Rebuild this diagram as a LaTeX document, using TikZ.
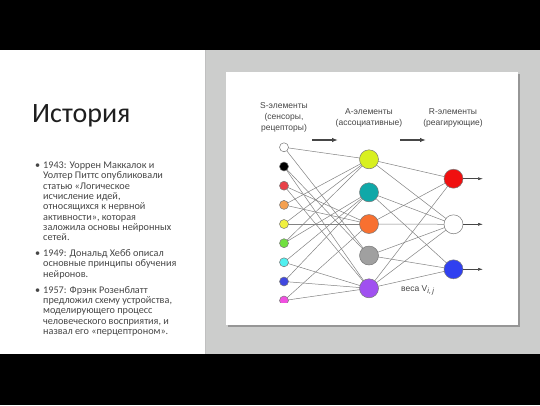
\documentclass[tikz,border=0pt]{standalone}
\usepackage{fontspec}
\setmainfont{Carlito}
\newfontfamily\arialf{Liberation Sans}
\usetikzlibrary{arrows.meta}
\pgfdeclarelayer{back}
\pgfdeclarelayer{edges}
\pgfsetlayers{back,edges,main}
\definecolor{slidegray}{RGB}{204,205,204}
\definecolor{shadowgray}{RGB}{150,150,150}
\definecolor{txtgray}{RGB}{70,70,70}
\definecolor{titlecol}{RGB}{30,30,30}
\definecolor{lblgray}{RGB}{70,70,70}
\definecolor{edgegray}{RGB}{130,130,130}
\definecolor{rimgray}{RGB}{120,120,120}
\definecolor{cS3}{RGB}{232,64,72}
\definecolor{cS4}{RGB}{244,160,80}
\definecolor{cS5}{RGB}{240,240,64}
\definecolor{cS6}{RGB}{112,224,64}
\definecolor{cS7}{RGB}{80,240,240}
\definecolor{cS8}{RGB}{64,72,224}
\definecolor{cS9}{RGB}{240,80,224}
\definecolor{cA1}{RGB}{216,240,32}
\definecolor{cA2}{RGB}{16,168,168}
\definecolor{cA3}{RGB}{248,112,48}
\definecolor{cA4}{RGB}{160,160,160}
\definecolor{cA5}{RGB}{160,80,240}
\definecolor{cR1}{RGB}{240,16,16}
\definecolor{cR3}{RGB}{48,64,240}
\tikzset{
  snode/.style={circle, draw=rimgray, line width=0.5pt, minimum size=9pt, inner sep=0pt},
  anode/.style={circle, draw=rimgray, line width=0.5pt, minimum size=19pt, inner sep=0pt},
  link/.style={draw=edgegray, line width=0.5pt},
  headarrow/.style={draw=lblgray, line width=1.3pt, -{Latex[length=6pt,width=4.5pt]}},
  outarrow/.style={draw=lblgray, line width=0.5pt, -{Latex[length=5pt,width=3pt]}},
  bodytext/.style={anchor=base west, inner sep=0pt, text=txtgray, font=\fontsize{10.2}{10}\selectfont},
  lbl/.style={anchor=base, inner sep=0pt, text=lblgray, font=\arialf\fontsize{8.5}{10}\selectfont}
}
\begin{document}
\begin{tikzpicture}[x=1pt,y=-1pt]
\useasboundingbox (0,0) rectangle (540,405);
\begin{pgfonlayer}{back}
\fill[white] (0,0) rectangle (540,405);
\fill[black] (0,0) rectangle (540,50);
\fill[black] (0,354) rectangle (540,405);
\fill[slidegray] (205,50) rectangle (540,354);
\draw[shadowgray!60, line width=1pt] (205.5,50) -- (205.5,354);
\fill[shadowgray] (227.5,73.5) rectangle (519.5,326.5);
\fill[white] (226,72) rectangle (518,325);
\end{pgfonlayer}

% left text
\node[anchor=base west, inner sep=0pt, text=titlecol, font=\fontsize{28}{30}\selectfont] (title) at (32,122) {История};

\node[bodytext] (b1) at (35,168.5) {•};
\node[bodytext] (l1) at (43,168.5) {1943: Уоррен Маккалок и};
\node[bodytext] (l2) at (43,178.8) {Уолтер Питтс опубликовали};
\node[bodytext] (l3) at (43,189.1) {статью «Логическое};
\node[bodytext] (l4) at (43,199.4) {исчисление идей,};
\node[bodytext] (l5) at (43,209.7) {относящихся к нервной};
\node[bodytext] (l6) at (43,220) {активности», которая};
\node[bodytext] (l7) at (43,230.3) {заложила основы нейронных};
\node[bodytext] (l8) at (43,240.6) {сетей.};

\node[bodytext] (b2) at (35,256.6) {•};
\node[bodytext] (m1) at (43,256.6) {1949: Дональд Хебб описал};
\node[bodytext] (m2) at (43,266.9) {основные принципы обучения};
\node[bodytext] (m3) at (43,277.2) {нейронов.};

\node[bodytext] (b3) at (35,293.3) {•};
\node[bodytext] (n1) at (43,293.3) {1957: Фрэнк Розенблатт};
\node[bodytext] (n2) at (43,303.6) {предложил схему устройства,};
\node[bodytext] (n3) at (43,313.9) {моделирующего процесс};
\node[bodytext] (n4) at (43,324.2) {человеческого восприятия, и};
\node[bodytext] (n5) at (43,334.5) {назвал его «перцептроном».};

% diagram labels
\node[lbl] (sl1) at (284,108) {S-элементы};
\node[lbl] (sl2) at (284,119.5) {(сенсоры,};
\node[lbl] (sl3) at (284,130) {рецепторы)};
\node[lbl] (al1) at (369,114) {A-элементы};
\node[lbl] (al2) at (369,125) {(ассоциативные)};
\node[lbl] (rl1) at (453,114) {R-элементы};
\node[lbl] (rl2) at (453,125) {(реагирующие)};

\coordinate (h1s) at (312,140);
\coordinate (h1e) at (338,140);
\coordinate (h2s) at (400,140);
\coordinate (h2e) at (426,140);
\draw[headarrow] (h1s) -- (h1e);
\draw[headarrow] (h2s) -- (h2e);

% nodes
\begin{scope}
\clip (226,72) rectangle (518,302.5);
\node[snode, fill=white] (s1) at (284,147.3) {};
\node[snode, fill=black] (s2) at (284,166.5) {};
\node[snode, fill=cS3] (s3) at (284,185.7) {};
\node[snode, fill=cS4] (s4) at (284,204.9) {};
\node[snode, fill=cS5] (s5) at (284,224) {};
\node[snode, fill=cS6] (s6) at (284,243.2) {};
\node[snode, fill=cS7] (s7) at (284,262.3) {};
\node[snode, fill=cS8] (s8) at (284,281.5) {};
\node[snode, fill=cS9] (s9) at (284,300.5) {};
\end{scope}

\node[anode, fill=cA1] (a1) at (369,159.3) {};
\node[anode, fill=cA2] (a2) at (369,192.3) {};
\node[anode, fill=cA3] (a3) at (369,224) {};
\node[anode, fill=cA4] (a4) at (369,255.5) {};
\node[anode, fill=cA5] (a5) at (369,288.3) {};

\node[anode, fill=cR1] (r1) at (453.5,178.7) {};
\node[anode, fill=white] (r2) at (453.5,224.3) {};
\node[anode, fill=cR3] (r3) at (453.5,269.3) {};

\coordinate (o1) at (483,178.7);
\coordinate (o2) at (483,224.3);
\coordinate (o3) at (483,269.3);

\node[anchor=base west, inner sep=0pt, text=lblgray, font=\arialf\fontsize{8.5}{10}\selectfont] (w) at (401,291) {веса V\raisebox{-2.5pt}{\fontsize{7.5}{8}\selectfont\itshape i,\,j}};

\begin{pgfonlayer}{edges}
\foreach \s/\a in {s1/a1, s1/a4, s2/a4, s2/a5, s3/a3, s3/a5, s4/a1, s4/a3, s5/a1, s5/a3, s6/a1, s6/a2, s7/a2, s7/a5, s8/a2, s8/a5, s9/a3, s9/a5}
  \draw[link] (\s.center) -- (\a.center);
\foreach \a/\r in {a1/r1, a1/r2, a2/r2, a2/r3, a3/r1, a3/r2, a4/r2, a4/r3, a5/r1, a5/r2, a5/r3}
  \draw[link] (\a.center) -- (\r.center);
\end{pgfonlayer}

\draw[outarrow] (r1) -- (o1);
\draw[outarrow] (r2) -- (o2);
\draw[outarrow] (r3) -- (o3);
\end{tikzpicture}
\end{document}
